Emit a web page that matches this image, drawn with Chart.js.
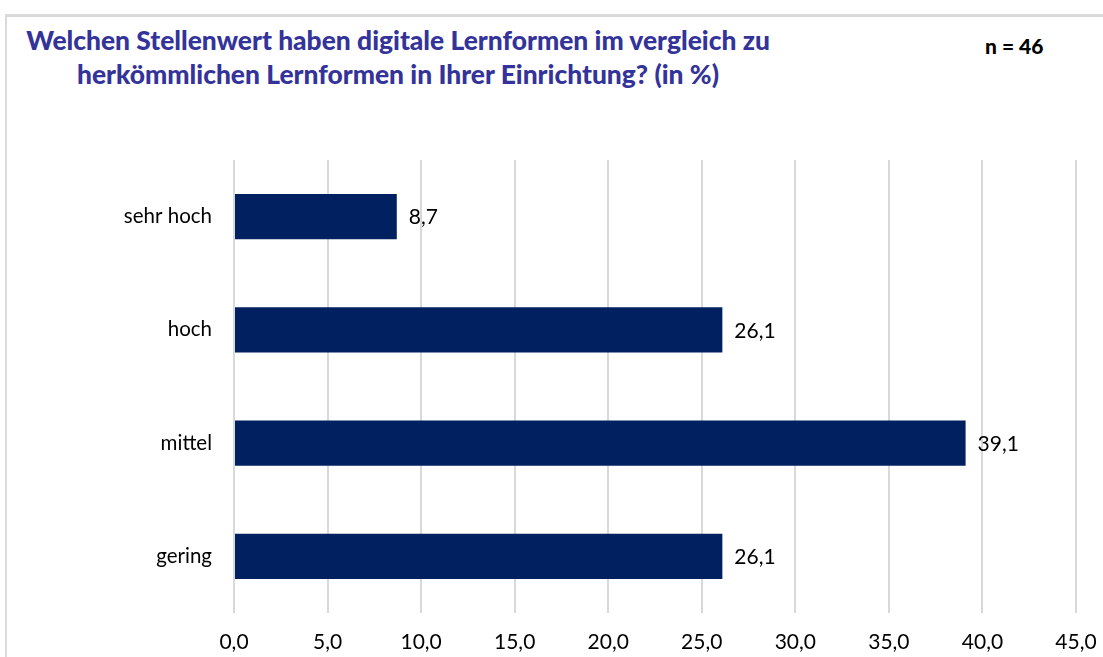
<!DOCTYPE html>
<html>
<head>
<meta charset="utf-8">
<script src="https://cdn.jsdelivr.net/npm/chart.js@4"></script>
<style>
    html, body { margin: 0; padding: 0; background: #fff; }
    #frame { position: relative; width: 1103px; height: 657px; overflow: hidden; font-family: Lato, sans-serif; }
    #box { position: absolute; left: 5px; top: 14px; width: 1200px; height: 700px; border-top: 3px solid #dadada; border-left: 2px solid #dadada; }
    #title { position: absolute; left: 0; width: 796px; top: 23px; text-align: center; color: #333399; font-weight: 900; font-size: 26.4px; line-height: 34px; }
    #n { position: absolute; left: 985px; top: 33px; color: #000; font-weight: 900; font-size: 21px; }
    #wrap { position: absolute; left: 0; top: 0; width: 1103px; height: 657px; }
</style>
</head>
<body>
<div id="frame">
    <div id="box"></div>
    <div id="title">Welchen Stellenwert haben digitale Lernformen im vergleich zu<br>herkömmlichen Lernformen in Ihrer Einrichtung? (in %)</div>
    <div id="n">n = 46</div>
    <div id="wrap"><canvas id="chart"></canvas></div>
</div>
<script>
// Data
const categories = ['sehr hoch', 'hoch', 'mittel', 'gering'];
const values = [8.7, 26.1, 39.1, 26.1];
const xTicks = [0, 5, 10, 15, 20, 25, 30, 35, 40, 45];

const fmt = v => v.toFixed(1).replace('.', ',');

const ctx = document.getElementById('chart').getContext('2d');
new Chart(ctx, {
    type: 'bar',
    data: {
        labels: categories,
        datasets: [{
            data: values,
            backgroundColor: '#002060',
            borderWidth: 0,
            categoryPercentage: 0.8,
            barPercentage: 0.5
        }]
    },
    options: {
        indexAxis: 'y',
        responsive: true,
        maintainAspectRatio: false,
        animation: false,
        layout: { padding: { top: 160, right: 27, left: 0, bottom: 0 } },
        plugins: {
            legend: { display: false },
            tooltip: { enabled: false }
        },
        scales: {
            x: {
                min: 0,
                max: 45,
                afterBuildTicks: s => { s.ticks = xTicks.map(v => ({ value: v })); },
                afterFit: s => {
                    s.height = 44;
                    s.paddingLeft = 0;
                    s.paddingRight = 0;
                },
                border: { display: false },
                grid: { color: '#d9d9d9', lineWidth: 2, drawTicks: false },
                ticks: {
                    color: '#000',
                    padding: 17,
                    font: { family: 'Lato', size: 21 },
                    callback: v => fmt(v)
                }
            },
            y: {
                afterFit: s => { s.width = 234; },
                border: { display: false },
                grid: { display: false, drawTicks: false },
                ticks: {
                    color: '#000',
                    padding: 22,
                    font: { family: 'Lato', size: 20.5 }
                }
            }
        }
    },
    plugins: [{
        // value labels at the end of each bar
        id: 'barValues',
        afterDatasetsDraw: function(chart) {
            const c = chart.ctx;
            const meta = chart.getDatasetMeta(0);
            c.save();
            c.fillStyle = '#000';
            c.font = '21px Lato';
            c.textBaseline = 'middle';
            meta.data.forEach((bar, i) => {
                c.fillText(fmt(values[i]), bar.x + 12, bar.y + 1);
            });
            c.restore();
        }
    }]
});
</script>
</body>
</html>
